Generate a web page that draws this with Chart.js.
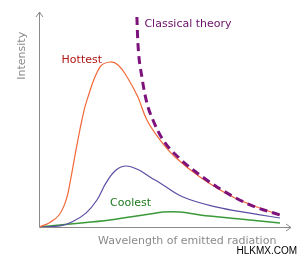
<!DOCTYPE html>
<html lang="en">
<head>
    <meta charset="UTF-8">
    <title>Black body radiation</title>
    <style>
        html, body { margin: 0; padding: 0; background: #fff; }
    </style>
</head>
<body>
    <canvas id="grafico1" width="303" height="259"></canvas>

    <script src="https://cdn.jsdelivr.net/npm/chart.js"></script>

<script>
  // wavelength (0-100) / intensity (0-100)
  const hottestX = [0, 4.0, 8.0, 10.8, 12.4, 14.0, 15.5, 17.1, 19.1, 24.3, 28.3, 31.5, 35.1, 39.4, 43.0, 48.2, 54.2, 64.1, 77.3, 88.0, 96.0]
  const hottestY = [0, 1.9, 5.6, 12.6, 21.0, 31.3, 40.7, 50.0, 59.3, 74.8, 77.1, 75.7, 70.1, 60.7, 50.0, 40.7, 32.7, 23.4, 14.0, 8.9, 5.6]

  const coolX = [0, 8.4, 13.1, 18.7, 23.1, 26.7, 30.7, 34.7, 39.8, 44.2, 48.2, 57.4, 70.9, 84.1, 96.0]
  const coolY = [0, 0.5, 2.3, 6.5, 12.6, 20.6, 26.6, 28.5, 26.6, 23.4, 20.6, 14.0, 9.3, 6.5, 4.2]

  const coolestX = [0, 12.4, 28.3, 44.2, 49.4, 56.2, 64.1, 80.1, 96.0]
  const coolestY = [0, 1.4, 3.3, 6.1, 7.0, 7.0, 5.6, 3.7, 1.9]

  const classicalX = [39.0, 39.4, 41.0, 43.0, 45.4, 49.4, 55.4, 64.1, 70.9, 84.1, 96.0]
  const classicalY = [98.1, 86.0, 70.1, 57.9, 50.0, 40.7, 32.7, 24.3, 18.7, 10.3, 5.6]

  const pares = (xs, ys) => xs.map((x, i) => ({ x: x, y: ys[i] }))

  const eixos = {
    id: 'eixos',
    afterDraw(chart) {
      const c = chart.ctx
      const a = chart.chartArea
      c.save()
      c.strokeStyle = '#8a8a8a'
      c.lineWidth = 1
      c.beginPath()
      c.moveTo(a.left + 0.5, a.bottom + 0.5)
      c.lineTo(a.left + 0.5, a.top - 1)
      c.moveTo(a.left + 0.5, a.bottom + 0.5)
      c.lineTo(a.right + 1, a.bottom + 0.5)
      // arrow heads
      c.moveTo(a.left - 3, a.top + 4)
      c.lineTo(a.left + 0.5, a.top - 1)
      c.lineTo(a.left + 4, a.top + 4)
      c.moveTo(a.right - 4, a.bottom - 3)
      c.lineTo(a.right + 1, a.bottom + 0.5)
      c.lineTo(a.right - 4, a.bottom + 4)
      c.stroke()

      const sx = chart.scales.x, sy = chart.scales.y
      c.font = '11px "DejaVu Sans"'
      c.textBaseline = 'middle'
      c.textAlign = 'left'
      c.fillStyle = '#b01818'
      c.fillText('Hottest', sx.getPixelForValue(9), sy.getPixelForValue(78))
      c.fillStyle = '#6a0f6a'
      c.fillText('Classical theory', sx.getPixelForValue(42), sy.getPixelForValue(95))
      c.fillStyle = '#1f7a1f'
      c.fillText('Coolest', sx.getPixelForValue(28.3), sy.getPixelForValue(11))

      c.fillStyle = '#8a8a8a'
      c.fillText('Wavelength of emitted radiation', sx.getPixelForValue(23.5), a.bottom + 14)
      c.save()
      c.translate(a.left - 17, sy.getPixelForValue(80))
      c.rotate(-Math.PI / 2)
      c.textAlign = 'center'
      c.fillText('Intensity', 0, 0)
      c.restore()

      c.fillStyle = '#000'
      c.font = '10px "Liberation Sans Narrow", "Liberation Sans"'
      c.textAlign = 'right'
      c.fillText('HLKMX.COM', 297, 251)
      c.restore()
    }
  }

  const grafico1 = new Chart(document.getElementById('grafico1'), {
    type: 'line',
    data: {
      datasets: [
        { label: 'Classical theory', data: pares(classicalX, classicalY), borderColor: '#7d127d', borderWidth: 3, borderDash: [8, 5], cubicInterpolationMode: 'monotone' },
        { label: 'Hottest', data: pares(hottestX, hottestY), borderColor: '#f2683a', borderWidth: 1.2, tension: 0.4 },
        { label: 'Middle', data: pares(coolX, coolY), borderColor: '#5b4ea3', borderWidth: 1.2, tension: 0.4 },
        { label: 'Coolest', data: pares(coolestX, coolestY), borderColor: '#3a9a3a', borderWidth: 1.5, tension: 0.4 }
      ]
    },
    options: {
      responsive: false,
      animation: false,
      layout: { padding: { left: 39, right: 13, top: 13, bottom: 32 } },
      elements: {
        point: { radius: 0 },
        line: { fill: false }
      },
      scales: {
        x: { type: 'linear', min: 0, max: 100, display: false },
        y: { min: 0, max: 100, display: false }
      },
      plugins: { legend: { display: false }, tooltip: { enabled: false } }
    },
    plugins: [eixos]
  })
</script>

</body>
</html>
